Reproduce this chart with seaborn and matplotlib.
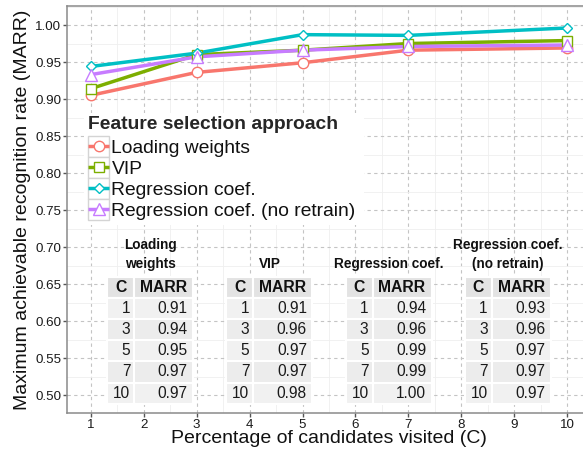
import numpy as np
import pandas as pd
import matplotlib
matplotlib.use("Agg")
import matplotlib.pyplot as plt
from matplotlib.lines import Line2D
from matplotlib.patches import Rectangle
from matplotlib.ticker import MultipleLocator, FormatStrFormatter
import seaborn as sns

# ---------------- data ----------------
C = [1, 3, 5, 7, 10]
approaches = ["Loading weights", "VIP", "Regression coef.", "Regression coef. (no retrain)"]
loading_weights = [0.905, 0.936, 0.949, 0.966, 0.969]
vip = [0.914, 0.960, 0.966, 0.975, 0.979]
reg_coef = [0.944, 0.962, 0.987, 0.986, 0.996]
reg_coef_noretrain = [0.933, 0.957, 0.966, 0.971, 0.973]

colors = ["#F8766D", "#7CAE00", "#00BFC4", "#C77CFF"]
marker_shapes = ["o", "s", "D", "^"]
marker_sizes = [7.5, 6.5, 5.5, 8.3]

table_titles = ["Loading\nweights", "VIP", "Regression coef.", "Regression coef.\n(no retrain)"]
table_C = ["1", "3", "5", "7", "10"]
table_loading = ["0.91", "0.94", "0.95", "0.97", "0.97"]
table_vip = ["0.91", "0.96", "0.97", "0.97", "0.98"]
table_reg = ["0.94", "0.96", "0.99", "0.99", "1.00"]
table_noretrain = ["0.93", "0.96", "0.97", "0.97", "0.97"]
table_centers = [2.125, 4.375, 6.625, 8.875]

series = [loading_weights, vip, reg_coef, reg_coef_noretrain]
df = pd.DataFrame({
    "C": C * 4,
    "MARR": sum(series, []),
    "approach": sum([[a] * len(C) for a in approaches], []),
})

# ---------------- style ----------------
sns.set_theme(style="white")
plt.rcParams["font.family"] = ["Liberation Sans", "DejaVu Sans"]

W, H = 583, 455
fig = plt.figure(figsize=(W / 100, H / 100), dpi=100)
ax_l, ax_r, ax_t, ax_b = 67, 591, 6.3, 413.3
ax = fig.add_axes([ax_l / W, (H - ax_b) / H, (ax_r - ax_l) / W, (ax_b - ax_t) / H])

pal = dict(zip(approaches, colors))
mk = dict(zip(approaches, marker_shapes))

# lines first, then points (ggplot order)
sns.lineplot(data=df, x="C", y="MARR", hue="approach", hue_order=approaches,
             palette=pal, linewidth=2.5, legend=False, ax=ax, zorder=3)
n_lines = len(ax.lines)
sns.lineplot(data=df, x="C", y="MARR", hue="approach", hue_order=approaches,
             style="approach", style_order=approaches, markers=mk, dashes=False,
             palette=pal, linestyle="none", markersize=8, legend=False, ax=ax, zorder=4)
for ln, s in zip(ax.lines[n_lines:], marker_sizes):
    ln.set_markeredgecolor(ln.get_color())
    ln.set_markerfacecolor("white")
    ln.set_markeredgewidth(1.0)
    ln.set_markersize(s)

ax.set_xlim(0.55, 10.45)
ax.set_ylim(0.4753, 1.0253)
ax.xaxis.set_major_locator(MultipleLocator(1))
ax.xaxis.set_minor_locator(MultipleLocator(0.5))
ax.yaxis.set_major_locator(MultipleLocator(0.05))
ax.yaxis.set_minor_locator(MultipleLocator(0.025))
ax.yaxis.set_major_formatter(FormatStrFormatter("%.2f"))

ax.set_axisbelow(True)
ax.grid(which="minor", color="#efefef", linewidth=0.6, linestyle="-")
ax.grid(which="major", color="#c4c4c4", linewidth=0.8, linestyle=(0, (3, 3)))
for s in ax.spines.values():
    s.set_color("#8a8a8a")
    s.set_linewidth(1.1)
ax.tick_params(which="major", length=2.6, width=1, color="#555555",
               labelsize=9.6, labelcolor="#1a1a1a", pad=1.5, left=True, bottom=True)
ax.tick_params(which="minor", length=0)

ax.set_xlabel("Percentage of candidates visited (C)", fontsize=14, color="#111111", labelpad=-1)
ax.set_ylabel("Maximum achievable recognition rate (MARR)", fontsize=14, color="#111111", labelpad=3)

# ---------------- tables ----------------
px_x = (10 - 1) / (567.3 - 90.7)   # data units per pixel (x)
px_y = 0.5 / 370.0                 # data units per pixel (y)
tbl_top = 1.00 - (276.5 - 25) * px_y
row_h = 21.2 * px_y
wC, wM = 27 * px_x, 59 * px_x
tables = [table_loading, table_vip, table_reg, table_noretrain]
for cx, title, vals in zip(table_centers, table_titles, tables):
    x0 = cx - (wC + wM) / 2
    rows = [("C", "MARR")] + list(zip(table_C, vals))
    for i, (cval, mval) in enumerate(rows):
        ytop = tbl_top - i * row_h
        if i == 0:
            fill = "#e3e3e3"
        else:
            fill = "#f1f1f1" if i % 2 == 1 else "#ececec"
        for xx, ww in ((x0, wC), (x0 + wC, wM)):
            ax.add_patch(Rectangle((xx, ytop - row_h), ww, row_h, facecolor=fill,
                                   edgecolor="white", linewidth=1.5, zorder=6))
        yc = ytop - row_h / 2
        if i == 0:
            ax.text(x0 + wC / 2, yc, cval, ha="center", va="center", fontsize=11.3,
                    fontweight="bold", color="#111111", zorder=7)
            ax.text(x0 + wC + wM / 2, yc, mval, ha="center", va="center", fontsize=11.3,
                    fontweight="bold", color="#111111", zorder=7)
        else:
            ax.text(x0 + wC - 4 * px_x, yc, cval, ha="right", va="center", fontsize=11.2,
                    color="#1a1a1a", zorder=7)
            ax.text(x0 + wC + wM - 5.5 * px_x, yc, mval, ha="right", va="center",
                    fontsize=11.2, color="#1a1a1a", zorder=7)
    lines = title.split("\n")
    for j, line in enumerate(reversed(lines)):
        yl = 1.00 - (264 - 25) * px_y + j * 19 * px_y
        ax.text(cx, yl, line, ha="center", va="center", fontsize=9.8,
                fontweight="bold", color="#111111", zorder=7)

# ---------------- legend ----------------
leg_fs = 13.9
hl, htp = 1.1, 0.12
handles = [Line2D([0], [0], color=c, lw=2.5, marker=m, markersize=s,
                  markerfacecolor="white", markeredgecolor=c, markeredgewidth=1.0,
                  solid_capstyle="butt")
           for c, m, s in zip(colors, marker_shapes, marker_sizes)]
leg = ax.legend(handles, approaches, title="Feature selection approach",
                loc="upper left",
                bbox_to_anchor=((85 - ax_l) / (ax_r - ax_l), (ax_b - 113.5) / (ax_b - ax_t)),
                frameon=False, fontsize=leg_fs, labelspacing=0.18, handlelength=hl,
                handletextpad=htp, borderpad=0.15, borderaxespad=0,
                title_fontproperties={"weight": "bold", "size": leg_fs}, alignment="left")
leg._legend_box.sep = 6.2 * 72 / 100
leg.set_zorder(10)
for t in leg.get_texts():
    t.set_color("#111111")

fig.canvas.draw()
renderer = fig.canvas.get_renderer()
inv = ax.transAxes.inverted()
# white background behind legend
bb = leg.get_window_extent(renderer)
(bx0, by0) = inv.transform((bb.x0 - 1, bb.y0 - 2))
(bx1, by1) = inv.transform((bb.x1 + 5, bb.y1 + 1))
ax.add_patch(Rectangle((bx0, by0), bx1 - bx0, by1 - by0, transform=ax.transAxes,
                       facecolor="white", edgecolor="none", zorder=8))
# key boxes around the legend handle lines
kh = 20.9
for h in leg.legend_handles:
    xd, yd = h.get_xdata(), h.get_ydata()
    tr = h.get_transform()
    (px0, py0) = tr.transform((xd[0], yd[0]))
    (px1, _) = tr.transform((xd[-1], yd[-1]))
    (ax0, ay0) = inv.transform((px0, py0 - kh / 2))
    (ax1, ay1) = inv.transform((px1, py0 + kh / 2))
    ax.add_patch(Rectangle((ax0, ay0), ax1 - ax0, ay1 - ay0, transform=ax.transAxes,
                           facecolor="white", edgecolor="#d4d4d4", linewidth=1.0, zorder=9))

fig.savefig("out.png", dpi=100)
